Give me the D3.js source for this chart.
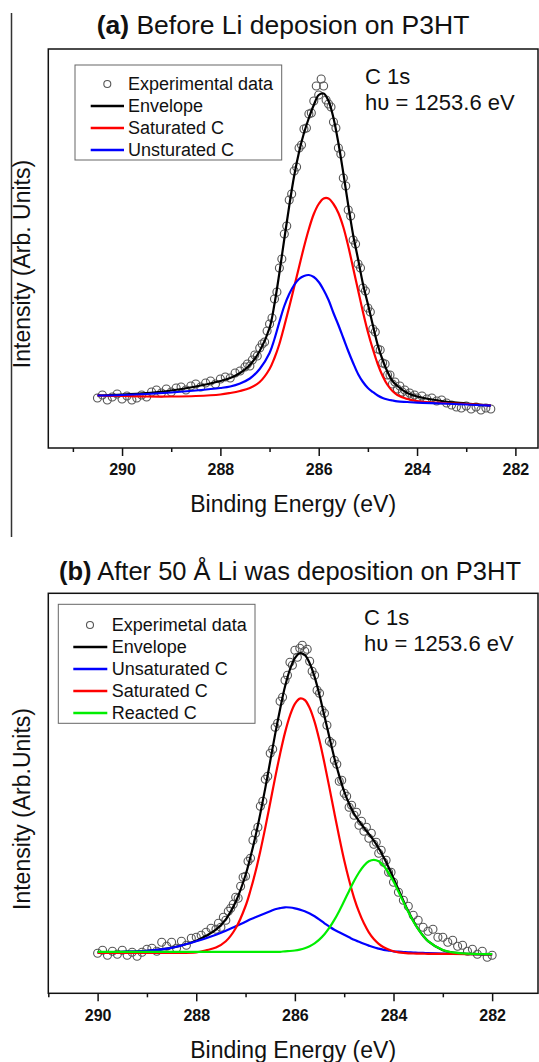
<!DOCTYPE html>
<html>
<head>
<meta charset="utf-8">
<script src="https://cdn.jsdelivr.net/npm/d3@7"></script>
<style>
  body { margin: 0; background: #fff; }
  svg { display: block; font-family: "Liberation Sans", Arial, Helvetica, sans-serif; fill: #111; }
  .tick text { font-weight: bold; font-size: 16px; fill: #111; }
  .tick line { stroke: #111; stroke-width: 1.5px; }
  .fit { fill: none; stroke-width: 2.2px; }
  .dot { fill: none; stroke: #555; stroke-width: 1.1px; }
</style>
</head>
<body>
<div class="chart"></div>
<script>
//Tick values shared by both panels (binding energy, eV)
let majorTicks = [290, 288, 286, 284, 282];
let minorTicks = [291, 289, 287, 285, 283];

//---------- panel (a): before Li deposition ----------
let gridA = [290.5, 290.0, 289.5, 289.0, 288.5, 288.0, 287.8, 287.6, 287.4, 287.2, 287.0, 286.9, 286.8, 286.7, 286.6, 286.5, 286.4, 286.3, 286.2, 286.1, 286.0, 285.9, 285.8, 285.7, 285.6, 285.5, 285.4, 285.3, 285.2, 285.1, 285.0, 284.9, 284.8, 284.7, 284.6, 284.5, 284.4, 284.2, 284.0, 283.5, 283.0, 282.5];

let envelopeA = [52.5, 53.5, 55, 57.5, 61.5, 67, 70, 75, 83, 97, 120, 144, 175, 209, 242, 272, 296, 315, 330, 343, 353, 354.5, 347, 330, 305, 275, 243, 213, 189, 164, 144, 123, 103, 88, 76, 67, 62, 55, 51.5, 47, 44.5, 42.3];

let saturatedA = [52.5, 52, 51.5, 51.5, 52, 53.5, 55, 57, 60, 66, 79, 90, 104, 122, 141, 161, 181, 201, 219, 234, 244, 249.5, 249.5, 244, 235, 221, 202, 180, 158, 136, 116, 99, 84, 72, 63, 57, 53, 49, 47, 45, 44, 42.5];

let unsaturatedA = [52.5, 53, 54, 55.5, 57.5, 60, 61.5, 64.5, 69.5, 79, 95, 109, 126, 142, 154, 163, 169, 172, 173, 171, 166, 158, 148, 135, 123, 110, 97, 85, 74, 66, 60, 56, 52.5, 50, 48.5, 47.5, 46.7, 46, 45.3, 44.5, 43.5, 42.3];

//experimental points: [binding energy, intensity]
let expA = [
    [290.5, 50], [290.4, 53], [290.3, 48], [290.2, 51], [290.1, 54], [290.0, 49], [289.9, 52], [289.8, 48], [289.7, 50], [289.6, 53],
    [289.5, 51], [289.4, 56], [289.3, 58], [289.2, 55], [289.1, 59], [289.0, 56], [288.9, 60], [288.8, 61], [288.7, 58], [288.6, 62],
    [288.5, 64], [288.4, 61], [288.3, 65], [288.2, 67], [288.1, 64], [288.0, 69], [287.9, 71], [287.8, 70], [287.7, 75], [287.6, 77],
    [287.5, 81], [287.45, 84], [287.4, 82], [287.35, 88], [287.3, 93], [287.25, 92], [287.2, 100], [287.15, 104], [287.1, 106], [287.05, 117],
    [287.0, 124], [286.95, 130], [286.9, 149], [286.85, 156], [286.8, 180], [286.75, 189], [286.7, 214], [286.65, 222], [286.6, 248], [286.55, 254],
    [286.5, 277], [286.45, 281], [286.4, 300], [286.35, 303], [286.3, 319], [286.25, 320], [286.2, 334], [286.15, 335], [286.1, 347], [286.05, 362],
    [286.0, 353], [285.95, 369], [285.9, 362], [285.85, 348], [285.8, 344], [285.75, 341], [285.7, 326], [285.65, 320], [285.6, 300], [285.55, 294],
    [285.5, 270], [285.45, 262], [285.4, 238], [285.35, 232], [285.3, 208], [285.25, 204], [285.2, 184], [285.15, 180], [285.1, 160], [285.05, 157],
    [285.0, 140], [284.95, 136], [284.9, 119], [284.85, 116], [284.8, 99], [284.75, 98], [284.7, 85], [284.65, 84], [284.6, 73], [284.55, 73],
    [284.5, 64], [284.45, 66], [284.4, 59], [284.35, 62], [284.3, 56], [284.25, 58], [284.2, 53], [284.15, 55], [284.1, 51], [284.05, 53],
    [284.0, 50], [283.9, 52], [283.8, 49], [283.7, 50], [283.6, 47], [283.5, 48], [283.4, 45], [283.3, 43], [283.2, 41], [283.1, 40],
    [283.0, 42], [282.9, 39], [282.8, 41], [282.7, 38], [282.6, 40], [282.5, 39]
];

let legendA = ["Experimental data", "Envelope", "Saturated C", "Unsturated C"];

//---------- panel (b): after 50 Å Li ----------
let gridB = [290.0, 289.5, 289.0, 288.5, 288.0, 287.8, 287.6, 287.4, 287.2, 287.0, 286.9, 286.8, 286.7, 286.6, 286.5, 286.4, 286.3, 286.2, 286.1, 286.0, 285.9, 285.8, 285.7, 285.6, 285.5, 285.4, 285.3, 285.2, 285.1, 285.0, 284.9, 284.8, 284.7, 284.6, 284.5, 284.4, 284.3, 284.2, 284.1, 284.0, 283.9, 283.8, 283.7, 283.6, 283.5, 283.4, 283.3, 283.0, 282.8, 282.5, 282.0];

let envelopeB = [41, 41.5, 42.5, 45.5, 52.5, 57.5, 63.7, 74, 91.5, 118.3, 136.5, 156.8, 179.9, 205.2, 232.1, 259.2, 284.1, 306.7, 323.8, 335.2, 340.1, 338.4, 330.1, 316.4, 298.1, 277, 256, 235.4, 217.4, 201.8, 189.5, 179.5, 172.1, 165.6, 159.4, 152.6, 145.1, 136.1, 126.1, 115, 103.8, 92.7, 82, 72.6, 64.3, 57.6, 52.2, 43.1, 40.7, 39.5, 39];

let unsaturatedB = [41, 41.5, 42.5, 45.5, 52, 55, 58.5, 62.5, 67, 71.5, 74, 76, 78, 80, 82, 84, 85.2, 86, 85.8, 85, 83.7, 82, 79.7, 77, 73.7, 70, 66.7, 63.5, 61, 58.5, 56, 53.5, 51.5, 49.5, 47.7, 46, 44.7, 43.5, 42.7, 42, 41.6, 41.3, 41, 40.8, 40.5, 40.4, 40.2, 39.8, 39.6, 39.3, 39];

let saturatedB = [40.5, 40.5, 40.5, 40.5, 41, 43, 45.7, 52, 65, 87.3, 103, 121.3, 142.4, 165.7, 190.6, 215.7, 239.4, 260.7, 277.7, 289.4, 294.7, 293.3, 285.3, 271.4, 252.5, 230, 205.7, 180.5, 156, 133, 113, 95.5, 81.4, 70, 61, 54.3, 49.5, 46, 43.7, 42, 41, 40.4, 40, 39.8, 39.7, 39.6, 39.5, 39.4, 39.3, 39.2, 39];

let reactedB = [41.5, 41.5, 41.5, 41.5, 41.5, 41.5, 41.5, 41.5, 41.5, 41.5, 41.5, 41.5, 41.5, 41.5, 41.5, 41.5, 41.5, 42, 42.3, 42.8, 43.7, 45.1, 47.1, 50, 53.9, 59, 65.6, 73.4, 82.4, 92.3, 102.4, 112.2, 120.8, 127.6, 132, 133.5, 132, 127.5, 120.5, 111.7, 101.7, 91.4, 81.3, 72.1, 64.1, 57.5, 52.2, 43.2, 40.9, 39.7, 39.2];

let expB = [
    [290.0, 40], [289.9, 43], [289.8, 38], [289.7, 42], [289.6, 39], [289.5, 43], [289.4, 38], [289.3, 41], [289.2, 37], [289.1, 41],
    [289.0, 44], [288.9, 45], [288.8, 42], [288.7, 51], [288.6, 47], [288.5, 51], [288.4, 45], [288.3, 52], [288.2, 48], [288.1, 55],
    [288.0, 56], [287.9, 58], [287.8, 61], [287.7, 65], [287.6, 64],
    [287.55, 70], [287.5, 66], [287.45, 76], [287.4, 73], [287.35, 82], [287.3, 85], [287.25, 89], [287.2, 96], [287.15, 95], [287.1, 107],
    [287.05, 116], [287.0, 117], [286.95, 132], [286.9, 135], [286.85, 153], [286.8, 160], [286.75, 166], [286.7, 187], [286.65, 192], [286.6, 214],
    [286.55, 217], [286.5, 240], [286.45, 244], [286.4, 266], [286.35, 270], [286.3, 292], [286.25, 296], [286.2, 313], [286.15, 318], [286.1, 331],
    [286.05, 328], [286.0, 343], [285.95, 336], [285.9, 345], [285.85, 348], [285.8, 342], [285.75, 344], [285.7, 332], [285.65, 322], [285.6, 318],
    [285.55, 303], [285.5, 300], [285.45, 283], [285.4, 280], [285.35, 268], [285.3, 252], [285.25, 250], [285.2, 233], [285.15, 229], [285.1, 212],
    [285.05, 213], [285.0, 200], [284.95, 197], [284.9, 186], [284.85, 188], [284.8, 178], [284.75, 181], [284.7, 168], [284.65, 172], [284.6, 162],
    [284.55, 166], [284.5, 155], [284.45, 160], [284.4, 149], [284.35, 151], [284.3, 140], [284.25, 143], [284.2, 131], [284.15, 133], [284.1, 121],
    [284.05, 121], [284.0, 111],
    [283.9, 101], [283.8, 93], [283.7, 87], [283.6, 78], [283.5, 73], [283.4, 66], [283.3, 62], [283.2, 64], [283.1, 56], [283.0, 56],
    [282.9, 51], [282.8, 53], [282.7, 47], [282.6, 48], [282.5, 42], [282.4, 44], [282.3, 39], [282.2, 42], [282.1, 36], [282.0, 38]
];

let legendB = ["Experimetal data", "Envelope", "Unsaturated C", "Saturated C", "Reacted C"];


let chart = {};

//layout + styling for each panel, built from the arrays above
let panels = [{
    top: 49, bottom: 448, left: 48.3, right: 538,
    beDomain: [291.5, 281.54], yMax: 399,
    tag: "(a)", title: " Before Li deposion on P3HT", titleX: 283, titleY: 34, titleSize: 26.5,
    yLabel: "Intensity (Arb. Units)", yLabelY: 264, xLabelY: 511.5,
    grid: gridA, exp: expA,
    fits: [
        { values: envelopeA, color: "#000" },
        { values: saturatedA, color: "#ff0000" },
        { values: unsaturatedA, color: "#0000ff" }
    ],
    legendNames: legendA,
    legend: { x0: 75, y0: 65, x1: 281.7, y1: 160, row0: 84, rowGap: 22, lineX0: 90.7, lineX1: 124, dotX: 107.3, textX: 128 },
    annot: { x: 365, y1: 84, y2: 109.5 }
}, {
    top: 593.3, bottom: 993.3, left: 48.3, right: 538,
    beDomain: [291, 281.07], yMax: 400,
    tag: "(b)", title: " After 50 Å Li was deposition on P3HT", titleX: 290, titleY: 580, titleSize: 25.5,
    yLabel: "Intensity (Arb.Units)", yLabelY: 809, xLabelY: 1058,
    grid: gridB, exp: expB,
    fits: [
        { values: envelopeB, color: "#000" },
        { values: unsaturatedB, color: "#0000ff" },
        { values: saturatedB, color: "#ff0000" },
        { values: reactedB, color: "#00ee00" }
    ],
    legendNames: legendB,
    legend: { x0: 58.3, y0: 604.3, x1: 255, y1: 723.3, row0: 625, rowGap: 22, lineX0: 73.3, lineX1: 107.3, dotX: 90, textX: 111.7 },
    annot: { x: 364, y1: 625, y2: 650.5 }
}];


function init() {
    chart.svg = d3.select(".chart").append("svg")
        .attr("width", 539)
        .attr("height", 1062);

    //thin stray rule along the left edge of panel (a)
    chart.svg.append("line")
        .attr("x1", 11.5).attr("x2", 11.5)
        .attr("y1", 13).attr("y2", 537)
        .attr("stroke", "#333")
        .attr("stroke-width", 1.5);

    panels.forEach(drawPanel);
}


function drawPanel(p) {
    let g = chart.svg.append("g");

    let xScale = d3.scaleLinear()
        .domain(p.beDomain)
        .range([p.left, p.right]);

    let yScale = d3.scaleLinear()
        .domain([0, p.yMax])
        .range([p.bottom, p.top]);

    //title, bold panel tag first
    let title = g.append("text")
        .attr("x", p.titleX)
        .attr("y", p.titleY)
        .attr("text-anchor", "middle")
        .style("font-size", p.titleSize + "px");
    title.append("tspan").style("font-weight", "bold").text(p.tag);
    title.append("tspan").text(p.title);

    //experimental points go under the fitted lines
    g.selectAll(".dot")
        .data(p.exp)
        .enter()
        .append("circle")
        .attr("class", "dot")
        .attr("cx", d => xScale(d[0]))
        .attr("cy", d => yScale(d[1]))
        .attr("r", 4);

    let line = d3.line()
        .x((d, i) => xScale(p.grid[i]))
        .y(d => yScale(d))
        .curve(d3.curveCatmullRom.alpha(0.5));

    g.selectAll(".fit")
        .data(p.fits)
        .enter()
        .append("path")
        .attr("class", "fit")
        .attr("stroke", d => d.color)
        .attr("d", d => line(d.values));

    //frame
    g.append("rect")
        .attr("x", p.left)
        .attr("y", p.top)
        .attr("width", p.right - p.left)
        .attr("height", p.bottom - p.top)
        .attr("fill", "none")
        .attr("stroke", "#111")
        .attr("stroke-width", 1.5);

    //axes
    let xAxis = g.append("g")
        .attr("transform", `translate(0,${p.bottom})`)
        .call(d3.axisBottom(xScale)
            .tickValues(majorTicks)
            .tickSize(8)
            .tickPadding(8)
            .tickFormat(d3.format("d")));
    xAxis.select(".domain").remove();

    let xMinor = g.append("g")
        .attr("transform", `translate(0,${p.bottom})`)
        .call(d3.axisBottom(xScale)
            .tickValues(minorTicks)
            .tickSize(4)
            .tickFormat(""));
    xMinor.select(".domain").remove();

    g.append("text")
        .attr("x", (p.left + p.right) / 2)
        .attr("y", p.xLabelY)
        .attr("text-anchor", "middle")
        .style("font-size", "23px")
        .text("Binding Energy (eV)");

    g.append("text")
        .attr("transform", `translate(30,${p.yLabelY}) rotate(-90)`)
        .attr("text-anchor", "middle")
        .style("font-size", "23px")
        .text(p.yLabel);

    //annotation
    g.append("text")
        .attr("x", p.annot.x)
        .attr("y", p.annot.y1)
        .style("font-size", "22px")
        .text("C 1s");
    g.append("text")
        .attr("x", p.annot.x)
        .attr("y", p.annot.y2)
        .style("font-size", "22px")
        .text("h\u03C5 = 1253.6 eV");

    //legend
    let L = p.legend;
    g.append("rect")
        .attr("x", L.x0)
        .attr("y", L.y0)
        .attr("width", L.x1 - L.x0)
        .attr("height", L.y1 - L.y0)
        .attr("fill", "#fff")
        .attr("stroke", "#666")
        .attr("stroke-width", 1);

    let rows = g.selectAll(".legend-row")
        .data(p.legendNames)
        .enter()
        .append("g")
        .attr("class", "legend-row")
        .attr("transform", (d, i) => `translate(0,${L.row0 + i * L.rowGap})`);

    rows.filter((d, i) => i === 0)
        .append("circle")
        .attr("class", "dot")
        .attr("cx", L.dotX)
        .attr("cy", 0)
        .attr("r", 3.5);

    rows.filter((d, i) => i > 0)
        .append("line")
        .attr("x1", L.lineX0)
        .attr("x2", L.lineX1)
        .attr("stroke", (d, i) => p.fits[i].color)
        .attr("stroke-width", 2.5);

    rows.append("text")
        .attr("x", L.textX)
        .attr("y", 6.4)
        .style("font-size", "18px")
        .text(d => d);
}

init();
</script>
</body>
</html>
